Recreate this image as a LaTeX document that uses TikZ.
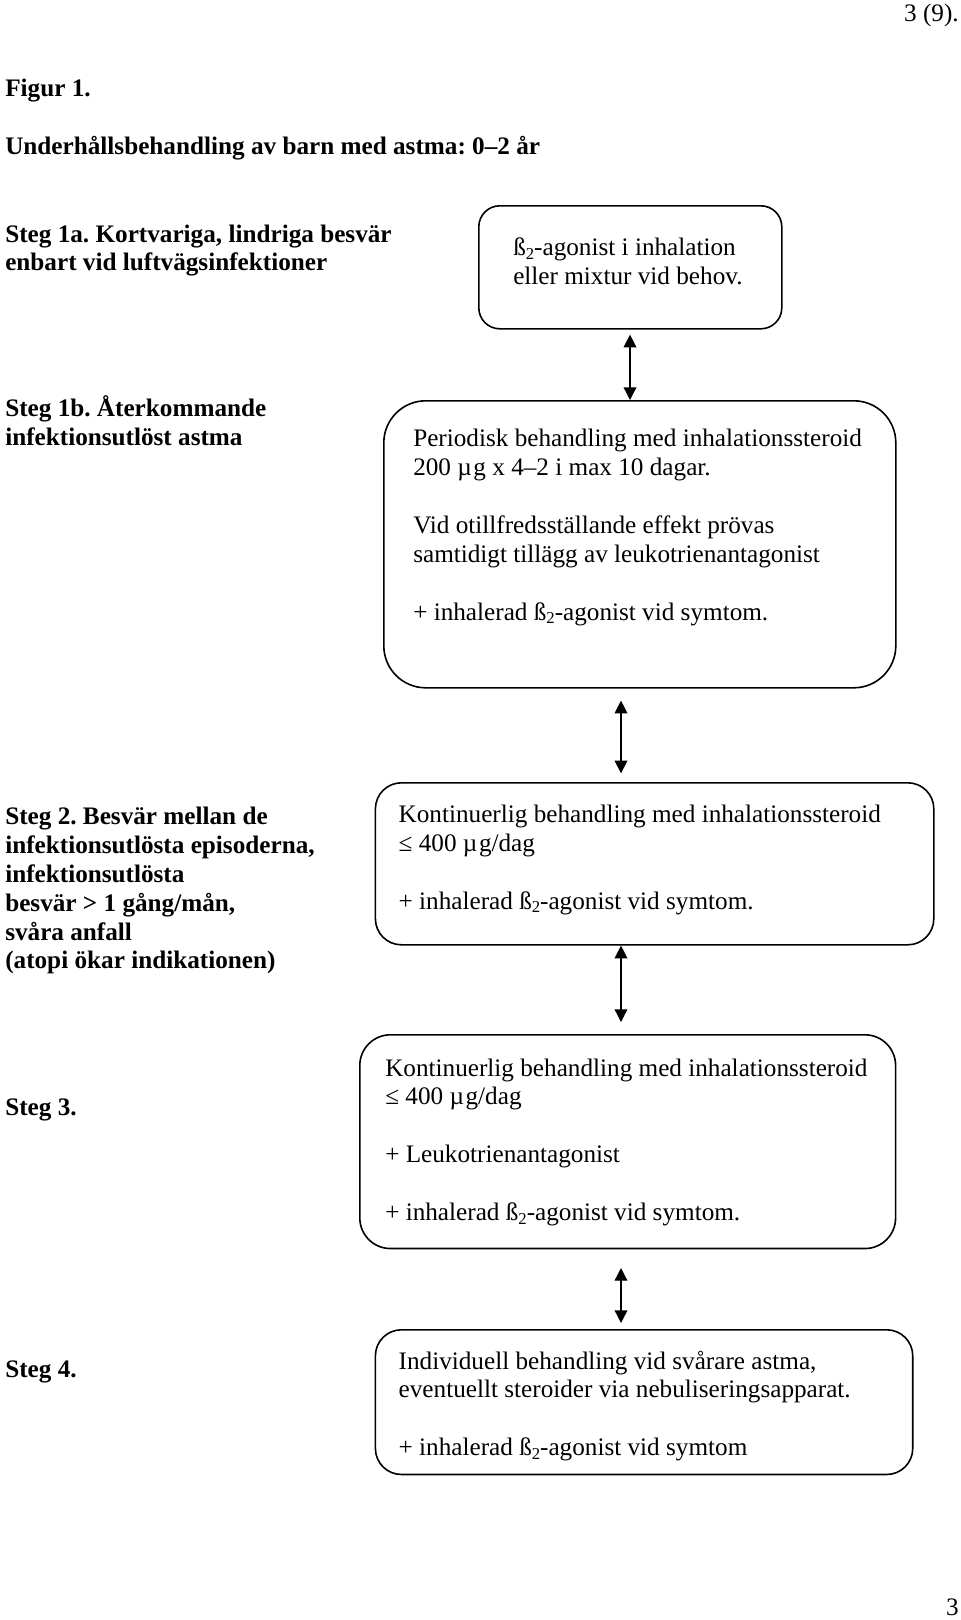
\documentclass[tikz,border=0pt]{standalone}
\usepackage{fontspec}
\setmainfont{Liberation Serif}
\usetikzlibrary{arrows.meta}
\newcommand{\bsub}[1]{\raisebox{-0.3ex}{\fontsize{12.5}{12.5}\selectfont #1}}
\newcommand{\mug}{µ\kern1.2pt g}
\frenchspacing
\begin{document}
\begin{tikzpicture}[x=0.75pt,y=-0.75pt,
  txt/.style={anchor=base west, inner sep=0pt, font=\fontsize{18.9}{21.7}\selectfont},
  lbl/.style={anchor=base west, inner sep=0pt, font=\fontsize{18.9}{21.7}\selectfont\bfseries},
  box/.style={draw, line width=1.2pt, inner sep=0pt, anchor=north west},
  dbl/.style={{Triangle[length=9.5pt,width=9.5pt]}-{Triangle[length=9.5pt,width=9.5pt]}, line width=1pt}]
\useasboundingbox (0,0) rectangle (960,1620);

% page numbers and headings
\node[txt, anchor=base east] (pnum) at (959,22) {3 (9).};
\node[lbl] (fig) at (5,97) {Figur 1.};
\node[lbl] (title) at (5,154) {Underhållsbehandling av barn med astma: 0–2 år};

% step labels
\node[lbl] (s1a) at (5,242) {\begin{tabular}[t]{@{}l@{}}Steg 1a. Kortvariga, lindriga besvär\\enbart vid luftvägsinfektioner\end{tabular}};
\node[lbl] (s1b) at (5,416.6) {\begin{tabular}[t]{@{}l@{}}Steg 1b. Återkommande\\infektionsutlöst astma\end{tabular}};
\node[lbl] (s2) at (5,824.3) {\begin{tabular}[t]{@{}l@{}}Steg 2. Besvär mellan de\\infektionsutlösta episoderna,\\infektionsutlösta\\besvär > 1 gång/mån,\\svåra anfall\\(atopi ökar indikationen)\end{tabular}};
\node[lbl] (s3) at (5,1115) {Steg 3.};
\node[lbl] (s4) at (5,1377.4) {Steg 4.};

% boxes
\node[box, minimum width=227.25pt, minimum height=92.25pt, rounded corners=15.75pt] (b1) at (478,205) {};
\node[box, minimum width=384pt, minimum height=215.25pt, rounded corners=31.5pt] (b2) at (383,400) {};
\node[box, minimum width=418.8pt, minimum height=121.5pt, rounded corners=19.5pt] (b3) at (374.6,782) {};
\node[box, minimum width=401.85pt, minimum height=160.3pt, rounded corners=23pt] (b4) at (359,1034) {};
\node[box, minimum width=403pt, minimum height=108.5pt, rounded corners=19.5pt] (b5) at (374.6,1329) {};

% box texts
\node[txt] (t1) at (513,255.6) {\begin{tabular}[t]{@{}l@{}}ß\bsub{2}-agonist i inhalation\\eller mixtur vid behov.\end{tabular}};
\node[txt] (t2) at (413,446.6) {\begin{tabular}[t]{@{}l@{}}Periodisk behandling med inhalationssteroid\\200 \mug{} x 4–2 i max 10 dagar.\\ \\Vid otillfredsställande effekt prövas\\samtidigt tillägg av leukotrienantagonist\\ \\+ inhalerad ß\bsub{2}-agonist vid symtom.\end{tabular}};
\node[txt] (t3) at (398.4,822.2) {\begin{tabular}[t]{@{}l@{}}Kontinuerlig behandling med inhalationssteroid\\≤ 400 \mug/dag\\ \\+ inhalerad ß\bsub{2}-agonist vid symtom.\end{tabular}};
\node[txt] (t4) at (385,1076) {\begin{tabular}[t]{@{}l@{}}Kontinuerlig behandling med inhalationssteroid\\≤ 400 \mug/dag\\ \\+ Leukotrienantagonist\\ \\+ inhalerad ß\bsub{2}-agonist vid symtom.\end{tabular}};
\node[txt] (t5) at (398.4,1369) {\begin{tabular}[t]{@{}l@{}}Individuell behandling vid svårare astma,\\eventuellt steroider via nebuliseringsapparat.\\ \\+ inhalerad ß\bsub{2}-agonist vid symtom\end{tabular}};

\node[txt, anchor=base east] (pfoot) at (959,1615) {3};

% arrows
\coordinate (ax1) at (630,0);
\coordinate (ax2) at (621,0);
\draw[dbl, shorten <=3.75pt] (ax1 |- b1.south) -- (ax1 |- b2.north);
\draw[dbl, shorten <=9pt, shorten >=6.5pt] (ax2 |- b2.south) -- (ax2 |- b3.north);
\draw[dbl, shorten >=9pt] (ax2 |- b3.south) -- (ax2 |- b4.north);
\draw[dbl, shorten <=14pt, shorten >=4.5pt] (ax2 |- b4.south) -- (ax2 |- b5.north);
\end{tikzpicture}
\end{document}
